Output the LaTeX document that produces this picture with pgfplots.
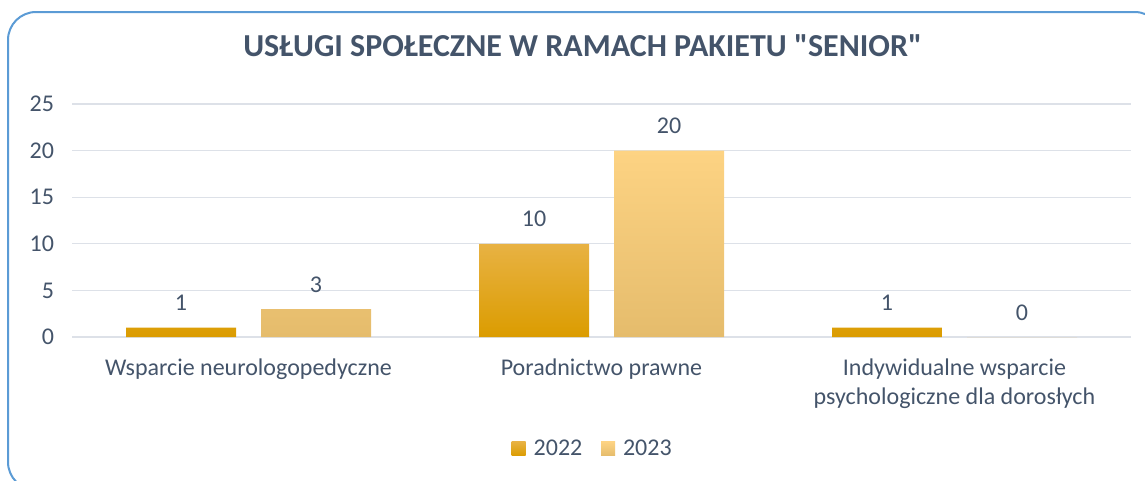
\documentclass[border=0pt]{standalone}
\usepackage{pgfplots}
\pgfplotsset{compat=1.18}
\usepackage{fontspec}
\setmainfont{Carlito}[Ligatures=TeXOff]
\definecolor{textc}{HTML}{44546A}
\definecolor{gridc}{HTML}{DDE1E8}
\definecolor{framec}{HTML}{5B9BD5}
\definecolor{ca1}{HTML}{E8B243}
\definecolor{ca2}{HTML}{EDAD00}
\definecolor{ca3}{HTML}{DB9C00}
\definecolor{cb1}{HTML}{FDD383}
\definecolor{cb2}{HTML}{E5BC6C}
\begin{document}
\begin{tikzpicture}
\path[use as bounding box] (0pt,0pt) rectangle (858.75pt,360pt);
\draw[framec, line width=1.5pt, rounded corners=21pt] (6pt,351pt) rectangle (872pt,-7.5pt);
\node[font=\fontsize{24}{28}\selectfont\bfseries, text=textc] at (437pt,326pt) {USŁUGI SPOŁECZNE W RAMACH PAKIETU "SENIOR"};
\begin{axis}[
  at={(54pt,107.25pt)}, anchor=south west, scale only axis,
  width=794.25pt, height=174.75pt,
  xmin=-0.5, xmax=2.5, ymin=0, ymax=25,
  ybar, bar width=82.5pt,
  xtick={0,1,2},
  xticklabels={Wsparcie neurologopedyczne, Poradnictwo prawne, {Indywidualne wsparcie\\psychologiczne dla dorosłych}},
  ytick={0,5,...,25},
  ymajorgrids, grid style={gridc, line width=1pt},
  axis line style={draw=none},
  major tick length=0pt,
  /pgf/number format/assume math mode=true,
  tick label style={font=\fontsize{18}{22}\selectfont, text=textc},
  xticklabel style={align=center, yshift=-12.5pt},
  yticklabel style={xshift=-10pt},
  nodes near coords,
  every node near coord/.append style={font=\fontsize{18}{21}\selectfont, text=textc, yshift=9pt},
  legend style={at={(0.492,-0.48)}, anchor=center, draw=none, legend columns=2,
    font=\fontsize{18}{21}\selectfont, text=textc,
    /tikz/every even column/.style={column sep=12pt}},
  legend image code/.code={\path[#1, draw=none] (0pt,-5.25pt) rectangle (10.5pt,5.25pt); \path (0pt,0pt) -- (14.5pt,0pt);},
]
\addplot[bar shift=-50.625pt, draw=none, top color=ca1, middle color=ca2, bottom color=ca3] coordinates {(0,1) (1,10) (2,1)};
\addplot[bar shift=50.625pt, draw=none, top color=cb1, bottom color=cb2] coordinates {(0,3) (1,20) (2,0)};
\legend{2022, 2023}
\end{axis}
\end{tikzpicture}
\end{document}
